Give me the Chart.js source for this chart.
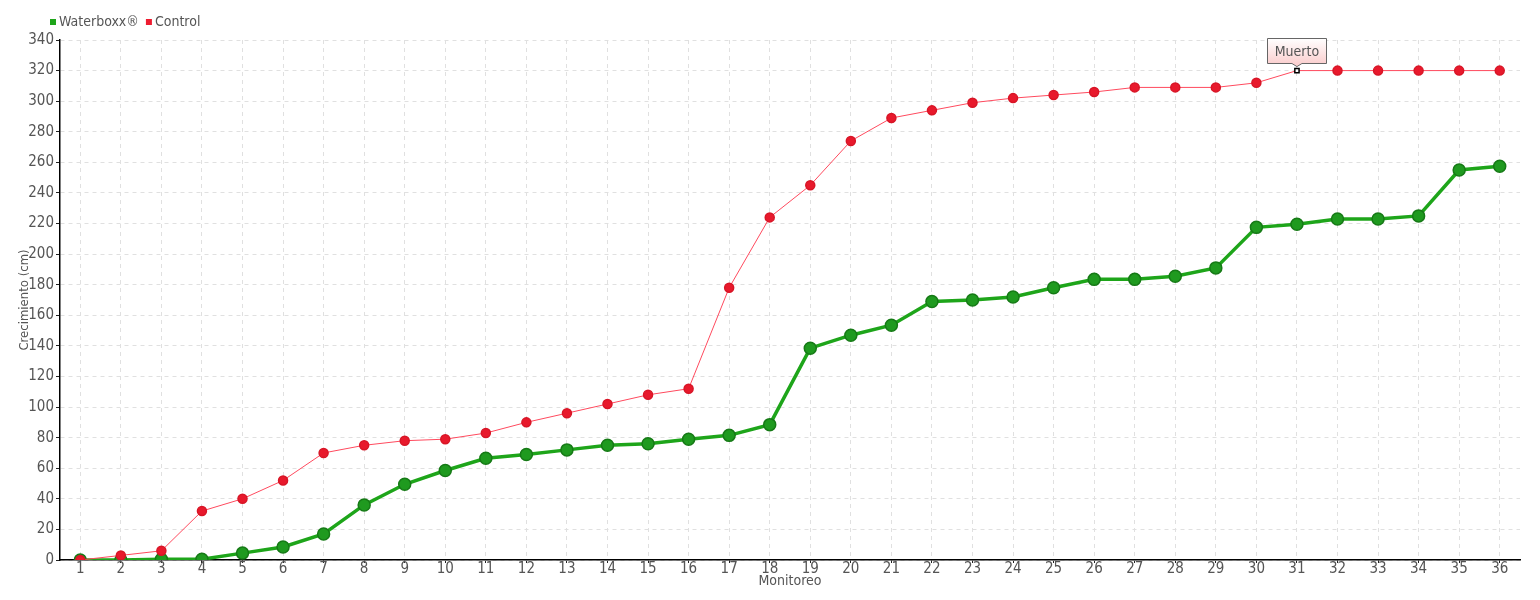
<!DOCTYPE html>
<html>
<head>
<meta charset="utf-8">
<script src="https://cdn.jsdelivr.net/npm/chart.js@4/dist/chart.umd.min.js"></script>
<style>
  html, body { margin: 0; padding: 0; background: #fff; }
  #wrap { width: 1540px; height: 600px; }
</style>
</head>
<body>
<div id="wrap"><canvas id="chart"></canvas></div>
<script>
const monitoreo = [];
for (let i = 1; i <= 36; i++) monitoreo.push(String(i));

const waterboxx = [0, 0, 0.5, 0.5, 4.5, 8.5, 17, 36, 49.5, 58.5, 66.5, 69,
  72, 75, 76, 79, 81.5, 88.5, 138.5, 147, 153.5, 169, 170, 172,
  178, 183.5, 183.5, 185.5, 191, 217.5, 219.5, 223, 223, 225, 255, 257.5];

const control = [0, 3, 6, 32, 40, 52, 70, 75, 78, 79, 83, 90,
  96, 102, 108, 112, 178, 224, 245, 274, 289, 294, 299, 302,
  304, 306, 309, 309, 309, 312, 320, 320, 320, 320, 320, 320];

const muertoIndex = 30;
const muertoText = 'Muerto';

const fontFamily = "'DejaVu Sans Condensed', 'DejaVu Sans', sans-serif";
Chart.defaults.font.family = fontFamily;
Chart.defaults.font.size = 15;
Chart.defaults.color = '#555';

const gridStyle = {
  color: '#e0e0e0',
  lineWidth: 1,
  tickColor: '#222',
  tickLength: 4,
  drawTicks: true
};

// legend drawn by hand so it can sit where the original had it
const legendPlugin = {
  id: 'smallLegend',
  afterDraw(chart) {
    const ctx = chart.ctx;
    ctx.save();
    ctx.font = '14px ' + fontFamily;
    ctx.textBaseline = 'middle';
    ctx.textAlign = 'left';
    let x = 50;
    const y = 22;
    chart.data.datasets.forEach(ds => {
      ctx.fillStyle = ds.legendColor;
      ctx.fillRect(x, y - 3, 6, 6);
      ctx.fillStyle = '#555';
      ctx.fillText(ds.label, x + 9, y);
      x += 9 + ctx.measureText(ds.label).width + 7;
    });
    ctx.restore();
  }
};

// small callout over the "Muerto" point
const calloutPlugin = {
  id: 'callout',
  afterDatasetsDraw(chart) {
    const meta = chart.getDatasetMeta(1);
    const pt = meta.data[muertoIndex];
    if (!pt) return;
    const ctx = chart.ctx;
    const w = 59, h = 25;
    const x0 = Math.round(pt.x - w / 2) + 0.5, y1 = Math.round(pt.y - 8) + 0.5, y0 = y1 - h;
    ctx.save();
    const grad = ctx.createLinearGradient(0, y0, 0, y1);
    grad.addColorStop(0, '#ffffff');
    grad.addColorStop(1, '#fbd0d0');
    ctx.beginPath();
    ctx.moveTo(x0, y0);
    ctx.lineTo(x0 + w, y0);
    ctx.lineTo(x0 + w, y1);
    ctx.lineTo(pt.x + 5, y1);
    ctx.lineTo(pt.x, pt.y - 4);
    ctx.lineTo(pt.x - 5, y1);
    ctx.lineTo(x0, y1);
    ctx.closePath();
    ctx.fillStyle = grad;
    ctx.fill();
    ctx.strokeStyle = '#666';
    ctx.lineWidth = 1;
    ctx.stroke();
    ctx.fillStyle = '#555';
    ctx.font = '14px ' + fontFamily;
    ctx.textAlign = 'center';
    ctx.textBaseline = 'middle';
    ctx.fillText(muertoText, pt.x, y0 + h / 2 + 1);
    ctx.restore();
  }
};

const ctrlPointStyle = control.map((v, i) => i === muertoIndex ? 'rect' : 'circle');
const ctrlPointBg = control.map((v, i) => i === muertoIndex ? '#ffffff' : '#e8192c');
const ctrlPointBorder = control.map((v, i) => i === muertoIndex ? '#000000' : '#d81526');
const ctrlPointRadius = control.map((v, i) => i === muertoIndex ? 3 : 4.5);

new Chart(document.getElementById('chart'), {
  type: 'line',
  data: {
    labels: monitoreo,
    datasets: [{
      label: 'Waterboxx®',
      legendColor: '#1ea51a',
      data: waterboxx,
      order: 2,
      borderColor: '#1ea51a',
      backgroundColor: '#1f9a1f',
      borderWidth: 3.5,
      pointRadius: 6,
      pointBackgroundColor: '#1f9a1f',
      pointBorderColor: '#167a16',
      pointBorderWidth: 1.5,
      tension: 0
    }, {
      label: 'Control',
      legendColor: '#ee1c30',
      data: control,
      order: 1,
      borderColor: '#ff4a5e',
      backgroundColor: '#e8192c',
      borderWidth: 1,
      pointStyle: ctrlPointStyle,
      pointRadius: ctrlPointRadius,
      pointBackgroundColor: ctrlPointBg,
      pointBorderColor: ctrlPointBorder,
      pointBorderWidth: 1.5,
      tension: 0
    }]
  },
  options: {
    responsive: true,
    maintainAspectRatio: false,
    animation: false,
    layout: {
      padding: { left: 0, right: 20, top: 40, bottom: 0 }
    },
    plugins: {
      legend: { display: false },
      tooltip: { enabled: false }
    },
    scales: {
      x: {
        offset: true,
        grid: Object.assign({}, gridStyle, { offset: false, tickLength: 3 }),
        border: { display: true, color: '#000', width: 1.5, dash: [4, 4] },
        ticks: { padding: -3, maxRotation: 0, autoSkip: false },
        title: { display: true, text: 'Monitoreo', padding: { top: 0, bottom: 10 }, font: { size: 14 } },
        afterFit(scale) { scale.height = 40; }
      },
      y: {
        min: 0,
        max: 340,
        grid: gridStyle,
        border: { display: true, color: '#000', width: 1.5, dash: [4, 4] },
        ticks: { stepSize: 20, padding: 2 },
        title: { display: true, text: 'Crecimiento (cm)', padding: { top: 17, bottom: 0 }, font: { size: 13 } },
        afterFit(scale) { scale.width = 60; }
      }
    }
  },
  plugins: [calloutPlugin, legendPlugin]
});
</script>
</body>
</html>
